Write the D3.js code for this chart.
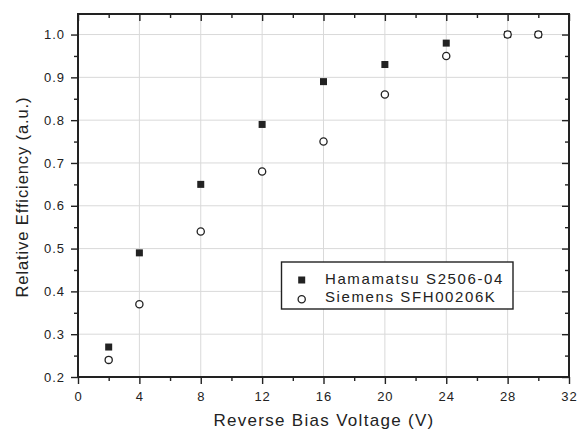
<!DOCTYPE html>
<html><head><meta charset="utf-8">
<script src="https://cdnjs.cloudflare.com/ajax/libs/d3/7.8.5/d3.min.js"></script>
<style>body{margin:0;background:#fff}svg{display:block}text{font-family:"Liberation Sans",Arial,sans-serif;fill:#222}</style>
</head><body><div id="chart"></div>
<script>
const voltages = [2, 4, 8, 12, 16, 20, 24, 28, 30];
const hamamatsu = [0.27, 0.49, 0.65, 0.79, 0.89, 0.93, 0.98, 1.0, 1.0];
const siemens = [0.24, 0.37, 0.54, 0.68, 0.75, 0.86, 0.95, 1.0, 1.0];
const seriesNames = ["Hamamatsu S2506-04", "Siemens SFH00206K"];
const xTicks = [0, 4, 8, 12, 16, 20, 24, 28, 32];
const yTicks = [0.2, 0.3, 0.4, 0.5, 0.6, 0.7, 0.8, 0.9, 1.0];
const xMinor = [2, 6, 10, 14, 18, 22, 26, 30];
const yMinor = [0.25, 0.35, 0.45, 0.55, 0.65, 0.75, 0.85, 0.95];

const W = 580, H = 430;
const m = {left: 78, right: 11, top: 14, bottom: 53};
const svg = d3.select("#chart").append("svg").attr("width", W).attr("height", H);
const x = d3.scaleLinear().domain([0, 32]).range([m.left, W - m.right]);
const y = d3.scaleLinear().domain([0.2, 1.048]).range([H - m.bottom, m.top]);
const x0 = x(0), x1 = x(32), y0 = y(0.2), y1 = y.range()[1];

// grid
svg.append("g").selectAll("line").data(xTicks.slice(1, -1)).join("line")
  .attr("x1", d => x(d)).attr("x2", d => x(d)).attr("y1", y0).attr("y2", y1)
  .attr("stroke", "#d9d9d9").attr("stroke-width", 1);
svg.append("g").selectAll("line").data(yTicks.slice(1)).join("line")
  .attr("y1", d => y(d)).attr("y2", d => y(d)).attr("x1", x0).attr("x2", x1)
  .attr("stroke", "#d9d9d9").attr("stroke-width", 1);

// axes
const fmt = d3.format(".1f");
const gBottom = svg.append("g").attr("transform", `translate(0,${y0})`)
  .call(d3.axisBottom(x).tickValues(xTicks).tickSize(7).tickPadding(8).tickFormat(d3.format("d")));
const gBottomMinor = svg.append("g").attr("transform", `translate(0,${y0})`)
  .call(d3.axisBottom(x).tickValues(xMinor).tickSize(4).tickFormat(""));
const gLeft = svg.append("g").attr("transform", `translate(${x0},0)`)
  .call(d3.axisLeft(y).tickValues(yTicks).tickSize(7).tickPadding(6).tickFormat(fmt));
const gLeftMinor = svg.append("g").attr("transform", `translate(${x0},0)`)
  .call(d3.axisLeft(y).tickValues(yMinor).tickSize(4).tickFormat(""));
const gTop = svg.append("g").attr("transform", `translate(0,${y1})`)
  .call(d3.axisBottom(x).tickValues(xTicks).tickSize(7).tickFormat(""));
const gTopMinor = svg.append("g").attr("transform", `translate(0,${y1})`)
  .call(d3.axisBottom(x).tickValues(xMinor).tickSize(4).tickFormat(""));
const gRight = svg.append("g").attr("transform", `translate(${x1},0)`)
  .call(d3.axisLeft(y).tickValues(yTicks).tickSize(7).tickFormat(""));
const gRightMinor = svg.append("g").attr("transform", `translate(${x1},0)`)
  .call(d3.axisLeft(y).tickValues(yMinor).tickSize(4).tickFormat(""));
[gBottom, gBottomMinor, gLeft, gLeftMinor, gTop, gTopMinor, gRight, gRightMinor].forEach(g => {
  g.select(".domain").remove();
  g.selectAll("line").attr("stroke", "#222").attr("stroke-width", 1.4);
  g.selectAll("text").attr("font-size", 13).attr("fill", "#222")
    .style("letter-spacing", "1px")
    .style("font-family", '"Liberation Sans",Arial,sans-serif');
});
svg.append("rect").attr("x", x0).attr("y", y1).attr("width", x1 - x0).attr("height", y0 - y1)
  .attr("fill", "none").attr("stroke", "#222").attr("stroke-width", 2);

// data
const sq = 7, r = 3.6;
svg.append("g").selectAll("rect").data(voltages.map((v, i) => [v, hamamatsu[i]])).join("rect")
  .attr("x", d => x(d[0]) - sq / 2).attr("y", d => y(d[1]) - sq / 2)
  .attr("width", sq).attr("height", sq).attr("fill", "#222");
svg.append("g").selectAll("circle").data(voltages.map((v, i) => [v, siemens[i]])).join("circle")
  .attr("cx", d => x(d[0])).attr("cy", d => y(d[1])).attr("r", r)
  .attr("fill", "#fff").attr("stroke", "#222").attr("stroke-width", 1.3);

// legend
const lg = svg.append("g");
lg.append("rect").attr("x", 281.5).attr("y", 262).attr("width", 231.5).attr("height", 47)
  .attr("fill", "#fff").attr("stroke", "#222").attr("stroke-width", 1.4);
lg.append("rect").attr("x", 301.7 - 3.5).attr("y", 280 - 3.5).attr("width", 7).attr("height", 7).attr("fill", "#222");
lg.append("circle").attr("cx", 301.7).attr("cy", 299.3).attr("r", 3.6).attr("fill", "#fff").attr("stroke", "#222").attr("stroke-width", 1.3);
lg.append("text").attr("x", 325).attr("y", 284).attr("font-size", 15).style("letter-spacing", "1.6px").text(seriesNames[0]);
lg.append("text").attr("x", 325).attr("y", 302.3).attr("font-size", 15).style("letter-spacing", "1.6px").text(seriesNames[1]);

// axis titles
svg.append("text").attr("x", 324).attr("y", 425.5).attr("text-anchor", "middle")
  .attr("font-size", 17).style("letter-spacing", "1.3px").text("Reverse Bias Voltage (V)");
svg.append("text").attr("transform", `translate(28,197) rotate(-90)`).attr("text-anchor", "middle")
  .attr("font-size", 16.5).style("letter-spacing", "0.9px").text("Relative Efficiency (a.u.)");
</script></body></html>
